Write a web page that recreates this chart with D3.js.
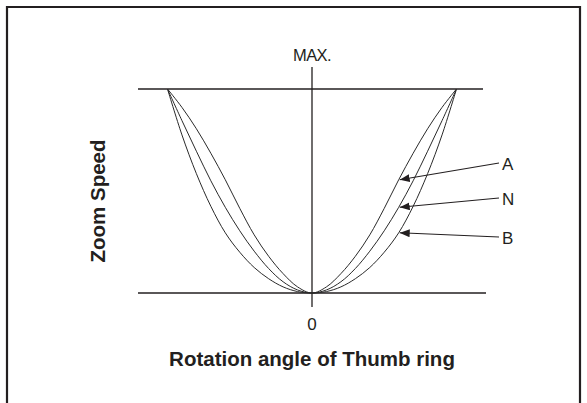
<!DOCTYPE html>
<html><head><meta charset="utf-8">
<script src="https://cdn.jsdelivr.net/npm/d3@7"></script>
<style>body{margin:0;background:#fff}svg{display:block}</style>
</head><body>
<script>
// Rotation angle (relative, -100..100) and zoom speed (% of MAX)
const angles = [-100,-90,-80,-70,-60,-50,-40,-30,-20,-10,0,10,20,30,40,50,60,70,80,90,100];
const speedA = [100,91,80.5,68.5,55.5,41.5,28.5,18,9.5,3,0,3,9.5,18,28.5,41.5,55.5,68.5,80.5,91,100];
const speedN = [100,84.5,69.5,55,42,30.5,20.5,12,5.5,1.5,0,1.5,5.5,12,20.5,30.5,42,55,69.5,84.5,100];
const speedB = [100,77.5,58.5,42.5,29.5,20,12.5,7,3,0.7,0,0.7,3,7,12.5,20,29.5,42.5,58.5,77.5,100];
const seriesNames = ["A","N","B"];
const yTickLabels = ["0","MAX."];
const xTitle = "Rotation angle of Thumb ring";
const yTitle = "Zoom Speed";

const W = 587, H = 403;
const svg = d3.select("body").append("svg").attr("width", W).attr("height", H);

const x = d3.scaleLinear().domain([-100, 100]).range([167.5, 456.5]);
const y = d3.scaleLinear().domain([0, 100]).range([293, 89]);

const ink = "#231f20";
// frame
svg.append("path")
  .attr("d", `M7,${H} L7,7 L580,7 L580,${H}`)
  .attr("fill", "none").attr("stroke", ink).attr("stroke-width", 2.2);

// MAX and 0 reference lines
svg.append("line").attr("x1", 138).attr("x2", 483).attr("y1", y(100)).attr("y2", y(100))
  .attr("stroke", ink).attr("stroke-width", 1.3);
svg.append("line").attr("x1", 138).attr("x2", 486).attr("y1", y(0)).attr("y2", y(0))
  .attr("stroke", ink).attr("stroke-width", 1.3);
// vertical axis
svg.append("line").attr("x1", x(0)).attr("x2", x(0)).attr("y1", 67).attr("y2", 307)
  .attr("stroke", ink).attr("stroke-width", 1.3);

// curves
const line = d3.line().x((d, i) => x(angles[i])).y(d => y(d)).curve(d3.curveCatmullRom.alpha(0.5));
[speedA, speedN, speedB].forEach(s => {
  svg.append("path").attr("d", line(s)).attr("fill", "none")
    .attr("stroke", "#2a2a2a").attr("stroke-width", 1);
});

// texts
const font = "'Liberation Sans', Arial, Helvetica, sans-serif";
svg.append("text").attr("x", x(0)).attr("y", 61).attr("text-anchor", "middle")
  .attr("font-family", font).attr("font-size", 16.5).attr("fill", ink).attr("letter-spacing", -0.6).text(yTickLabels[1]);
svg.append("text").attr("x", x(0)).attr("y", 330).attr("text-anchor", "middle")
  .attr("font-family", font).attr("font-size", 17).attr("fill", ink).text(yTickLabels[0]);
svg.append("text").attr("x", x(0)).attr("y", 366).attr("text-anchor", "middle")
  .attr("font-family", font).attr("font-size", 20.5).attr("font-weight", "bold").attr("fill", ink).text(xTitle);
svg.append("text").attr("transform", "translate(105,201) rotate(-90)").attr("text-anchor", "middle")
  .attr("font-family", font).attr("font-size", 20.5).attr("font-weight", "bold").attr("fill", ink).text(yTitle);

// callouts
svg.append("defs").append("marker").attr("id", "ah").attr("viewBox", "0 0 10 8")
  .attr("refX", 10).attr("refY", 4).attr("markerWidth", 10).attr("markerHeight", 8)
  .attr("markerUnits", "userSpaceOnUse").attr("orient", "auto")
  .append("path").attr("d", "M0,0 L10,4 L0,8 Z").attr("fill", ink);

const calloutAngle = 60;
const labelY = [163, 198, 237];
[speedA, speedN, speedB].forEach((s, i) => {
  const tx = x(calloutAngle), ty = y(s[angles.indexOf(calloutAngle)]);
  svg.append("line").attr("x1", 499).attr("y1", labelY[i]).attr("x2", tx + 1).attr("y2", ty)
    .attr("stroke", ink).attr("stroke-width", 1.1).attr("marker-end", "url(#ah)");
  svg.append("text").attr("x", 502).attr("y", labelY[i] + 6.5)
    .attr("font-family", font).attr("font-size", 17).attr("fill", ink).text(seriesNames[i]);
});
</script>
</body></html>
